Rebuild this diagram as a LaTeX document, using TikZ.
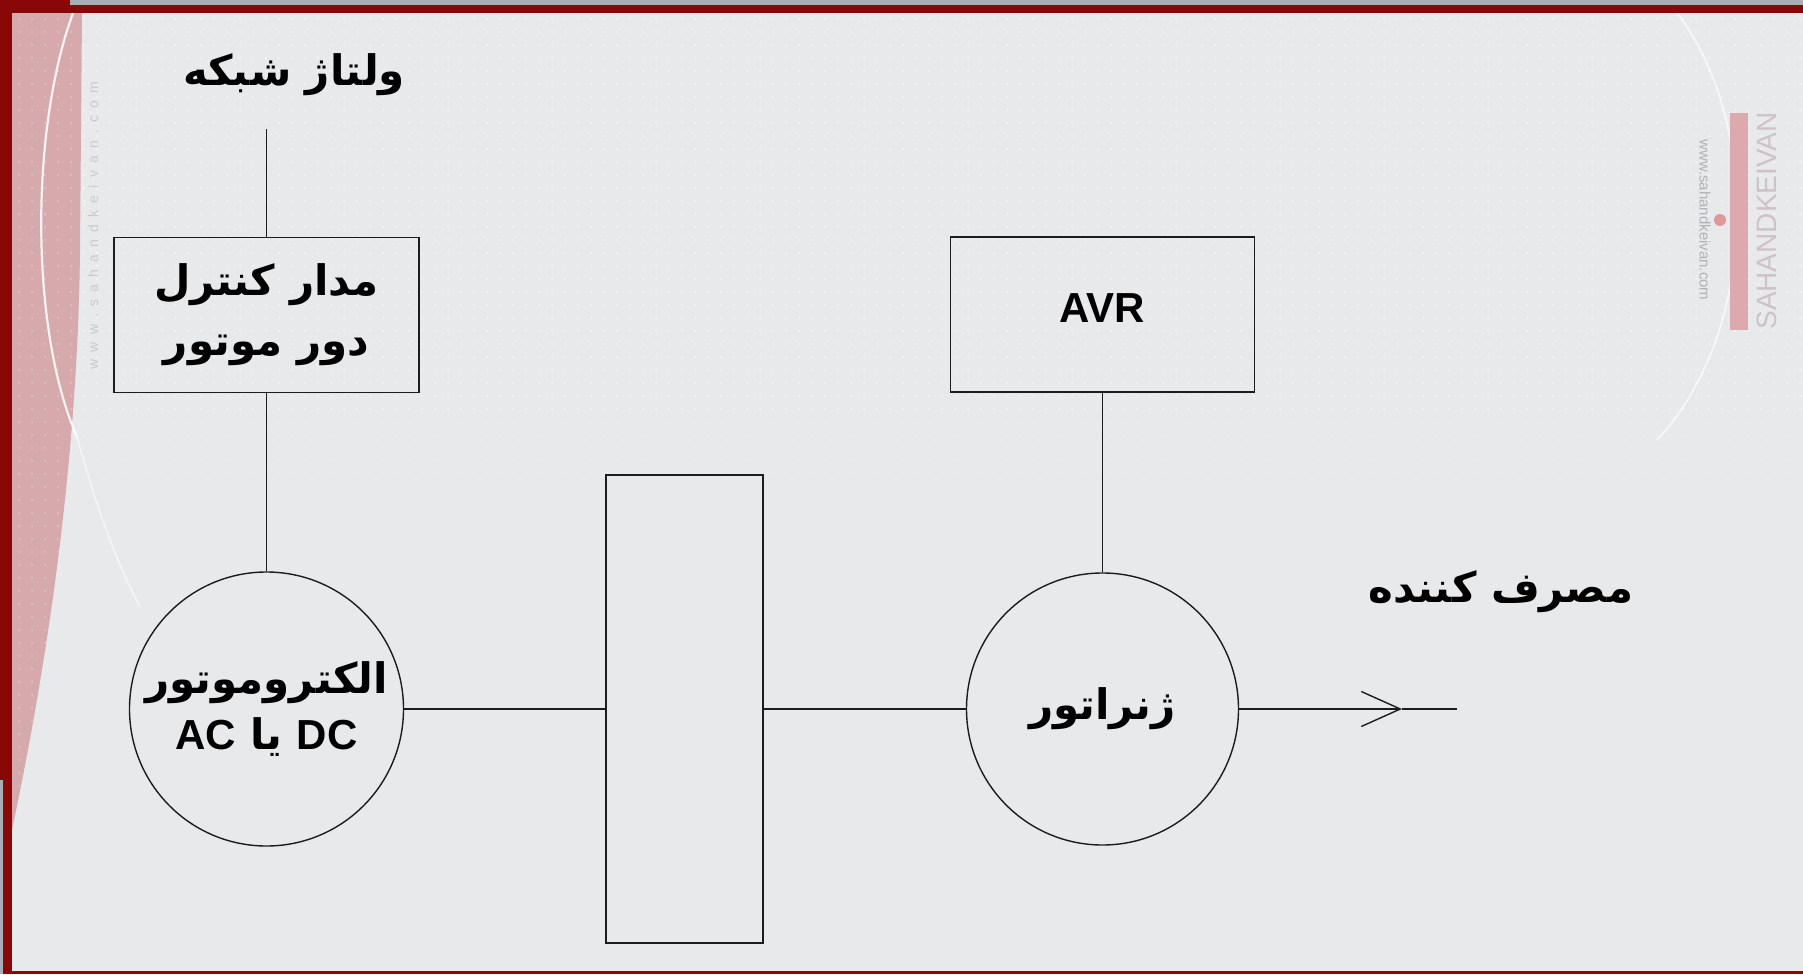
\documentclass[tikz,border=0pt]{standalone}
\usepackage{fontspec}
\setmainfont{Liberation Sans}
\newfontfamily\arabicfont[Script=Arabic]{DejaVu Sans}
\newfontfamily\latfont{Liberation Sans}
\TeXXeTstate=1
\usetikzlibrary{arrows.meta,patterns.meta}

\definecolor{bg}{HTML}{E8E9EB}
\definecolor{framered}{HTML}{880808}
\definecolor{pinkbg}{HTML}{D6AAAD}
\definecolor{pinkbar}{HTML}{DDA9AC}
\definecolor{wmgrey}{HTML}{C9CACE}
\definecolor{topgrey}{HTML}{A9AEB6}
\definecolor{lineclr}{HTML}{1C1C1C}

\tikzdeclarepattern{name=bgdots, type=uncolored,
  bounding box={(0pt,0pt) and (6.5pt,6.5pt)},
  tile size={(6.5pt,6.5pt)},
  code={\fill (3.25pt,3.25pt) circle (0.7pt);}}

\newcommand\lsp[1]{#1\kern3.6pt}

\begin{document}
\begin{tikzpicture}[x=0.5pt,y=-0.5pt,
  boxnode/.style={draw=lineclr, line width=0.9pt, rectangle, inner sep=0pt},
  circnode/.style={draw=lineclr, line width=0.7pt, circle, inner sep=0pt},
  conn/.style={draw=lineclr, line width=0.7pt},
  arab/.style={font=\arabicfont\bfseries\fontsize{21}{30}\selectfont, align=center, text=black},
  wmtext/.style={text=wmgrey, inner sep=0pt}]
\useasboundingbox (0,0) rectangle (1803,974);
% background
\fill[bg] (0,0) rectangle (1803,974);
\fill[pattern=bgdots, pattern color=white!50!bg] (12,13) rectangle (1803,420);
\fill[pattern=bgdots, pattern color=white!25!bg] (12,420) rectangle (1803,480);
\fill[pinkbg] (12,13) -- (82,13) -- (80,250) .. controls (78,450) and (50,650) .. (12,830) -- cycle;
\fill[pattern=bgdots, pattern color=pinkbg!75!white] (12,13) -- (82,13) -- (80,250) .. controls (78,450) and (50,650) .. (12,830) -- cycle;
% white swooshes
\draw[white, line width=1.1pt, opacity=0.85] (73,13) .. controls (30,130) and (30,330) .. (77,437);
\draw[white, line width=0.9pt, opacity=0.5] (77,437) .. controls (92,490) and (110,550) .. (140,607);
\draw[white, line width=0.9pt, opacity=0.65] (1677,13) .. controls (1760,120) and (1760,330) .. (1657,440);
% frame
\fill[framered] (0,0) rectangle (12,974);
\fill[framered] (0,0) rectangle (70,5);
\fill[topgrey] (70,0) rectangle (1803,5);
\fill[framered] (0,5) rectangle (1803,13);
\fill[framered] (12,971) rectangle (1803,974);
\fill[topgrey] (0,780) rectangle (3,974);
% watermarks
\node[wmtext, rotate=90, font=\latfont\fontsize{7}{8}\selectfont] (wmleft) at (93,222)
  {\lsp w\lsp w\lsp w\lsp .\lsp s\lsp a\lsp h\lsp a\lsp n\lsp d\lsp k\lsp e\lsp i\lsp v\lsp a\lsp n\lsp .\lsp c\lsp o\lsp m};
\fill[pinkbar] (1730,113) rectangle (1748,330);
\node[wmtext, rotate=90, font=\latfont\fontsize{14}{15}\selectfont, text=pinkbar!25!wmgrey] (wmbrand) at (1767,221) {SAHANDKEIVAN};
\node[wmtext, rotate=-90, font=\latfont\fontsize{7.5}{8}\selectfont, text=black!12!wmgrey] (wmsmall) at (1705,220) {www.sahandkeivan.com};
\fill[pinkbar!90!red] (1720,220) circle (6);
% diagram
\node[boxnode, minimum width=152.5pt, minimum height=77.5pt, arab] (ctrl) at (266.5,315)
  {\beginR مدار کنترل\endR\\\beginR دور موتور\endR};
\node[circnode, minimum size=137pt, arab] (motor) at (266.5,709)
  {\beginR الکتروموتور\endR\\[-2pt]\beginR\beginL{\latfont DC}\endL{} یا \beginL{\latfont AC}\endL\endR};
\node[boxnode, minimum width=78.5pt, minimum height=234pt] (coup) at (684.5,709) {};
\node[circnode, minimum size=136pt, arab] (gen) at (1102.5,709) {\raisebox{3.5pt}{\beginR ژنراتور\endR}};
\node[boxnode, minimum width=152pt, minimum height=77.5pt, text height=15.2pt, text depth=7.2pt, font=\latfont\bfseries\fontsize{21}{25}\selectfont] (avr) at (1102.5,314.5) {AVR};
\node[arab] (net) at (294,75) {\beginR ولتاژ شبکه\endR};
\node[arab] (load) at (1501,592) {\beginR مصرف کننده\endR};
\coordinate (top) at (266.5,129);
\coordinate (tip) at (1402,709);
\coordinate (end) at (1457,709);
\draw[conn] (top) -- (ctrl);
\draw[conn] (ctrl) -- (motor);
\draw[conn] (motor) -- (coup);
\draw[conn] (coup) -- (gen);
\draw[conn] (avr) -- (gen);
\draw[conn, -{Straight Barb[length=19.5pt,width=17.5pt]}] (gen) -- (tip);
\draw[conn] (tip) -- (end);
\end{tikzpicture}
\end{document}
